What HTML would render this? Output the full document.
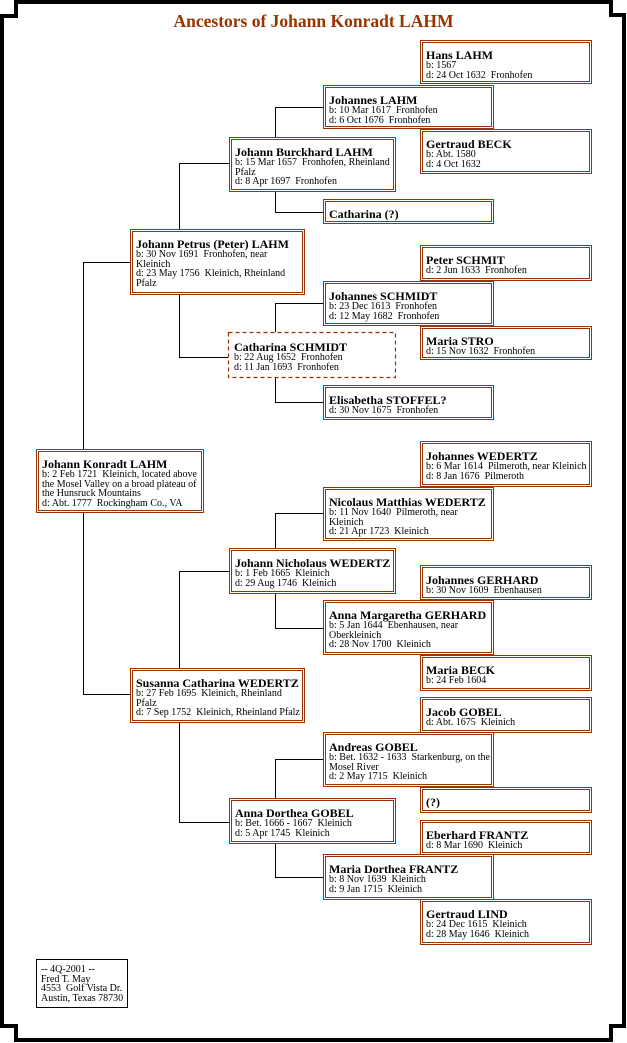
<!DOCTYPE html>
<html>
<head>
<meta charset="utf-8">
<style>
html,body{margin:0;padding:0;background:#fff;}
body{width:627px;height:1043px;position:relative;overflow:hidden;font-family:"Liberation Serif",serif;}
.t{position:absolute;left:0;top:11px;width:627px;text-align:center;font-weight:bold;font-size:17.5px;line-height:20px;color:#993300;white-space:nowrap;}
.b{position:absolute;box-sizing:border-box;border:3px double #993300;padding:6px 0 0 3px;white-space:nowrap;color:#000;background:#fff;}
.c{position:absolute;box-sizing:border-box;padding:6px 0 0 6px;white-space:nowrap;color:#000;}
.n{font-weight:bold;font-size:12px;line-height:12px;}
.d{font-size:10px;line-height:9.7px;white-space:pre;}
.note{position:absolute;left:36px;top:959px;width:92px;height:49px;box-sizing:border-box;border:1px solid #000;padding:5px 0 0 4px;}
.note .d{line-height:9.6px;}
svg{position:absolute;left:0;top:0;}
</style>
</head>
<body>
<svg width="627" height="1043" viewBox="0 0 627 1043">
<path d="M16 2 H611 V15 H624 V1026 H611 V1040 H16 V1026 H2 V16 H16 Z" fill="none" stroke="#000" stroke-width="4" stroke-linejoin="miter"/>
<g fill="none" stroke="#000" stroke-width="1">
<path d="M275.5 137 V107.5 H323"/>
<path d="M275.5 192 V212.5 H323"/>
<path d="M179.5 229 V163.5 H229"/>
<path d="M179.5 295 V357.5 H228"/>
<path d="M275.5 332 V303.5 H323"/>
<path d="M275.5 378 V402.5 H323"/>
<path d="M83.5 449 V262.5 H130"/>
<path d="M83.5 513 V694.5 H130"/>
<path d="M275.5 548 V513.5 H323"/>
<path d="M275.5 594 V628.5 H323"/>
<path d="M179.5 668 V571.5 H229"/>
<path d="M179.5 723 V822.5 H229"/>
<path d="M275.5 798 V759.5 H323"/>
<path d="M275.5 844 V877.5 H323"/>
</g>
<rect x="228.5" y="332.5" width="167" height="45" fill="#fff" stroke="#993300" stroke-width="1.2" stroke-dasharray="4 3"/>
</svg>

<div class="t">Ancestors of Johann Konradt LAHM</div>

<div class="b" style="left:420px;top:40px;width:172px;height:44px;"><div class="n">Hans LAHM</div><div class="d">b: 1567</div><div class="d">d: 24 Oct 1632  Fronhofen</div></div>

<div class="b" style="left:323px;top:85px;width:171px;height:44px;"><div class="n">Johannes LAHM</div><div class="d">b: 10 Mar 1617  Fronhofen</div><div class="d">d: 6 Oct 1676  Fronhofen</div></div>

<div class="b" style="left:420px;top:129px;width:172px;height:45px;"><div class="n">Gertraud BECK</div><div class="d">b: Abt. 1580</div><div class="d">d: 4 Oct 1632</div></div>

<div class="b" style="left:229px;top:137px;width:167px;height:55px;"><div class="n">Johann Burckhard LAHM</div><div class="d">b: 15 Mar 1657  Fronhofen, Rheinland</div><div class="d">Pfalz</div><div class="d">d: 8 Apr 1697  Fronhofen</div></div>

<div class="b" style="left:323px;top:199px;width:171px;height:25px;"><div class="n">Catharina (?)</div></div>

<div class="b" style="left:130px;top:229px;width:175px;height:66px;"><div class="n">Johann Petrus (Peter) LAHM</div><div class="d">b: 30 Nov 1691  Fronhofen, near</div><div class="d">Kleinich</div><div class="d">d: 23 May 1756  Kleinich, Rheinland</div><div class="d">Pfalz</div></div>

<div class="b" style="left:420px;top:245px;width:172px;height:36px;"><div class="n">Peter SCHMIT</div><div class="d">d: 2 Jun 1633  Fronhofen</div></div>

<div class="b" style="left:323px;top:281px;width:171px;height:45px;"><div class="n">Johannes SCHMIDT</div><div class="d">b: 23 Dec 1613  Fronhofen</div><div class="d">d: 12 May 1682  Fronhofen</div></div>

<div class="b" style="left:420px;top:326px;width:172px;height:34px;"><div class="n">Maria STRO</div><div class="d">d: 15 Nov 1632  Fronhofen</div></div>

<div class="c" style="left:228px;top:332px;width:168px;height:46px;padding-top:9px;"><div class="n">Catharina SCHMIDT</div><div class="d">b: 22 Aug 1652  Fronhofen</div><div class="d">d: 11 Jan 1693  Fronhofen</div></div>

<div class="b" style="left:323px;top:385px;width:171px;height:35px;"><div class="n">Elisabetha STOFFEL?</div><div class="d">d: 30 Nov 1675  Fronhofen</div></div>

<div class="b" style="left:420px;top:441px;width:172px;height:46px;"><div class="n">Johannes WEDERTZ</div><div class="d">b: 6 Mar 1614  Pilmeroth, near Kleinich</div><div class="d">d: 8 Jan 1676  Pilmeroth</div></div>

<div class="b" style="left:36px;top:449px;width:168px;height:64px;"><div class="n">Johann Konradt LAHM</div><div class="d">b: 2 Feb 1721  Kleinich, located above</div><div class="d">the Mosel Valley on a broad plateau of</div><div class="d">the Hunsruck Mountains</div><div class="d">d: Abt. 1777  Rockingham Co., VA</div></div>

<div class="b" style="left:323px;top:487px;width:171px;height:54px;"><div class="n">Nicolaus Matthias WEDERTZ</div><div class="d">b: 11 Nov 1640  Pilmeroth, near</div><div class="d">Kleinich</div><div class="d">d: 21 Apr 1723  Kleinich</div></div>

<div class="b" style="left:229px;top:548px;width:167px;height:46px;"><div class="n">Johann Nicholaus WEDERTZ</div><div class="d">b: 1 Feb 1665  Kleinich</div><div class="d">d: 29 Aug 1746  Kleinich</div></div>

<div class="b" style="left:420px;top:565px;width:172px;height:35px;"><div class="n">Johannes GERHARD</div><div class="d">b: 30 Nov 1609  Ebenhausen</div></div>

<div class="b" style="left:323px;top:600px;width:171px;height:55px;"><div class="n">Anna Margaretha GERHARD</div><div class="d">b: 5 Jan 1644  Ebenhausen, near</div><div class="d">Oberkleinich</div><div class="d">d: 28 Nov 1700  Kleinich</div></div>

<div class="b" style="left:420px;top:655px;width:172px;height:36px;"><div class="n">Maria BECK</div><div class="d">b: 24 Feb 1604</div></div>

<div class="b" style="left:130px;top:668px;width:175px;height:55px;"><div class="n">Susanna Catharina WEDERTZ</div><div class="d">b: 27 Feb 1695  Kleinich, Rheinland</div><div class="d">Pfalz</div><div class="d">d: 7 Sep 1752  Kleinich, Rheinland Pfalz</div></div>

<div class="b" style="left:420px;top:697px;width:172px;height:36px;"><div class="n">Jacob GOBEL</div><div class="d">d: Abt. 1675  Kleinich</div></div>

<div class="b" style="left:323px;top:732px;width:171px;height:55px;"><div class="n">Andreas GOBEL</div><div class="d">b: Bet. 1632 - 1633  Starkenburg, on the</div><div class="d">Mosel River</div><div class="d">d: 2 May 1715  Kleinich</div></div>

<div class="b" style="left:420px;top:787px;width:172px;height:26px;"><div class="n">(?)</div></div>

<div class="b" style="left:229px;top:798px;width:167px;height:46px;"><div class="n">Anna Dorthea GOBEL</div><div class="d">b: Bet. 1666 - 1667  Kleinich</div><div class="d">d: 5 Apr 1745  Kleinich</div></div>

<div class="b" style="left:420px;top:820px;width:172px;height:35px;"><div class="n">Eberhard FRANTZ</div><div class="d">d: 8 Mar 1690  Kleinich</div></div>

<div class="b" style="left:323px;top:854px;width:171px;height:46px;"><div class="n">Maria Dorthea FRANTZ</div><div class="d">b: 8 Nov 1639  Kleinich</div><div class="d">d: 9 Jan 1715  Kleinich</div></div>

<div class="b" style="left:420px;top:899px;width:172px;height:46px;"><div class="n">Gertraud LIND</div><div class="d">b: 24 Dec 1615  Kleinich</div><div class="d">d: 28 May 1646  Kleinich</div></div>

<div class="note"><div class="d">-- 4Q-2001 --</div><div class="d">Fred T. May</div><div class="d">4553  Golf Vista Dr.</div><div class="d">Austin, Texas 78730</div></div>
</body>
</html>
